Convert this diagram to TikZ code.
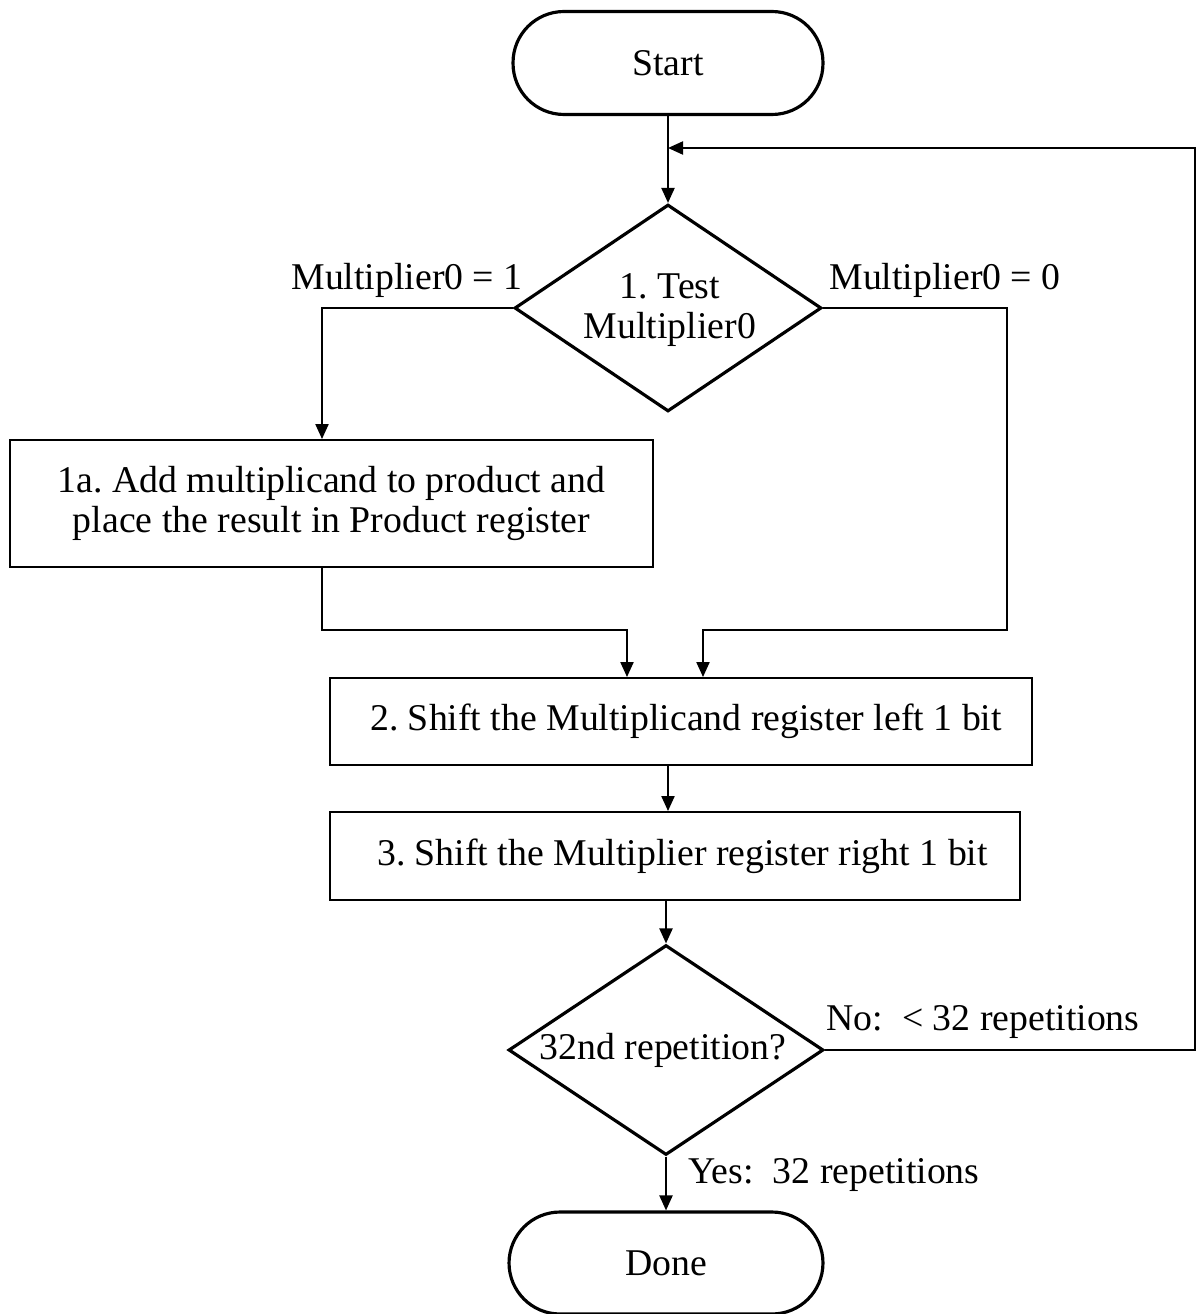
\documentclass[tikz,border=0pt]{standalone}
\usepackage{fontspec}
\setmainfont{Liberation Serif}
\usetikzlibrary{shapes.geometric,arrows.meta}
\frenchspacing
\begin{document}
\begin{tikzpicture}[x=0.02cm,y=-0.02cm,
  font=\fontsize{21.5}{23}\selectfont,
  term/.style={draw,line width=1.8pt,rectangle,rounded corners=1.02cm,minimum width=6.2cm,minimum height=2.06cm,inner sep=0pt},
  procbox/.style={draw,line width=1.1pt,rectangle,inner sep=0pt,align=center},
  decision/.style={draw,line width=1.8pt,diamond,inner sep=0pt},
  txt/.style={inner sep=0pt,align=center},
  conn/.style={line width=1.2pt},
  arr/.style={conn,-{Triangle[length=0.3cm,width=0.26cm]}}
]
\useasboundingbox (0,0) rectangle (1199,1314);

\node[term] (start) at (668,63) {Start};
\node[decision,minimum width=6.14cm,minimum height=4.14cm] (d1) at (668,308) {};
\node[txt] (d1t) at (670,310) {1. Test\\Multiplier0};
\node[procbox,minimum width=12.86cm,minimum height=2.54cm] (box1) at (331.5,503.5)
  {1a. Add multiplicand to product and\\place the result in Product register};
\node[procbox,minimum width=14.04cm,minimum height=1.74cm] (box2) at (681,721.5)
  {\hspace*{0.2cm}2. Shift the Multiplicand register left 1 bit};
\node[procbox,minimum width=13.8cm,minimum height=1.76cm] (box3) at (675,856)
  {\hspace*{0.3cm}3. Shift the Multiplier register right 1 bit};
\node[decision,minimum width=6.3cm,minimum height=4.2cm] (d2) at (666,1050) {};
\node[txt] (d2t) at (663,1050) {32nd repetition?};
\node[term,minimum width=6.28cm,minimum height=2.04cm] (done) at (666,1263) {Done};

\node[txt] (l1) at (407,280) {Multiplier0 = 1};
\node[txt] (l0) at (945,280) {Multiplier0 = 0};
\node[txt] (lno) at (983,1022) {No:\ \ < 32 repetitions};
\node[txt] (lyes) at (834,1175) {Yes:\ \ 32 repetitions};

\coordinate (lr) at (1195,148);
\coordinate (rc) at (1007,630);
\coordinate (ml) at (627,630);
\coordinate (mr) at (703,630);

\draw[arr] (start.south) -- (d1.north);
\draw[arr] (d2.east) -| (lr) -- (lr -| d1.north);
\draw[arr] (d1.west) -| ([xshift=-0.19cm]box1.north);
\draw[arr] (d1.east) -| (rc) -- (mr) -- (mr |- box2.north);
\draw[arr] ([xshift=-0.19cm]box1.south) |- (ml) -- (ml |- box2.north);
\draw[arr] (box2.south -| d1) -- (box3.north -| d1);
\draw[arr] (box3.south -| d2) -- (d2.north);
\draw[arr] (d2.south) -- (done.north);
\end{tikzpicture}
\end{document}
